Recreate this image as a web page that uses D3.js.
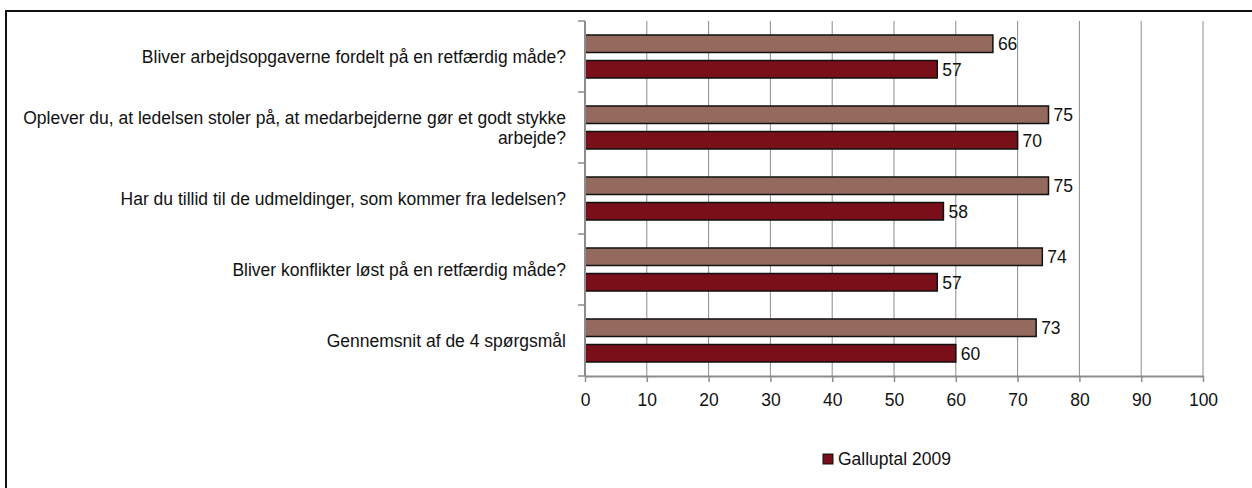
<!DOCTYPE html>
<html>
<head>
<meta charset="utf-8">
<script src="https://cdn.jsdelivr.net/npm/d3@7"></script>
<style>
  html, body { margin: 0; padding: 0; background: #fff; }
  svg { display: block; font-family: "Liberation Sans", Arial, sans-serif; }
</style>
</head>
<body>
<svg id="chart" width="1252" height="488"></svg>
<script>
// Questions (one row each, top to bottom); multi-line labels split on "\n"
const categories = [
  "Bliver arbejdsopgaverne fordelt på en retfærdig måde?",
  "Oplever du, at ledelsen stoler på, at medarbejderne gør et godt stykke\narbejde?",
  "Har du tillid til de udmeldinger, som kommer fra ledelsen?",
  "Bliver konflikter løst på en retfærdig måde?",
  "Gennemsnit af de 4 spørgsmål"
];

// Upper bar in each row
const valuesBenchmark = [66, 75, 75, 74, 73];
// Lower bar in each row
const valuesGallup2009 = [57, 70, 58, 57, 60];

const seriesNames = ["Benchmark", "Galluptal 2009"];
const legendLabels = ["Galluptal 2009"];
const xTicks = [0, 10, 20, 30, 40, 50, 60, 70, 80, 90, 100];

const colors = { "Benchmark": "#946a5f", "Galluptal 2009": "#780f19" };
const FS = 17.5;

const rows = categories.map((c, i) => ({
  category: c,
  values: [
    { series: seriesNames[0], value: valuesBenchmark[i] },
    { series: seriesNames[1], value: valuesGallup2009[i] }
  ]
}));

const svg = d3.select("#chart");

// Outer frame (extends past the right and bottom edges)
svg.append("rect")
  .attr("x", 6).attr("y", 11)
  .attr("width", 1300).attr("height", 600)
  .attr("fill", "none").attr("stroke", "#111").attr("stroke-width", 2);

const plot = { left: 585, right: 1203, top: 21, bottom: 376 };

const x = d3.scaleLinear().domain([0, 100]).range([plot.left, plot.right]);
const y = d3.scaleBand().domain(categories).range([plot.top, plot.bottom]).padding(0);
const bw = y.bandwidth();
const ySub = d3.scaleBand().domain(seriesNames)
  .range([bw * 0.197, bw * 0.803]).paddingInner(0.314);

// Vertical gridlines
svg.append("g").selectAll("line")
  .data(xTicks.filter(t => t > 0))
  .join("line")
  .attr("x1", d => x(d)).attr("x2", d => x(d))
  .attr("y1", plot.top).attr("y2", plot.bottom)
  .attr("stroke", "#8c8c8c").attr("stroke-width", 1);

// Bars
const rowG = svg.append("g").selectAll("g")
  .data(rows)
  .join("g")
  .attr("transform", d => `translate(0,${y(d.category)})`);

rowG.selectAll("rect")
  .data(d => d.values)
  .join("rect")
  .attr("x", x(0))
  .attr("y", d => ySub(d.series))
  .attr("width", d => x(d.value) - x(0))
  .attr("height", ySub.bandwidth())
  .attr("fill", d => colors[d.series])
  .attr("stroke", "#111").attr("stroke-width", 1.5);

// Value labels
rowG.selectAll("text.val")
  .data(d => d.values)
  .join("text")
  .attr("class", "val")
  .attr("x", d => x(d.value) + 5)
  .attr("y", d => ySub(d.series) + ySub.bandwidth() / 2)
  .attr("dy", "0.36em")
  .attr("font-size", FS)
  .attr("fill", "#111")
  .text(d => d.value);

// X axis
const xAxis = d3.axisBottom(x).tickValues(xTicks).tickSize(6).tickPadding(12).tickSizeOuter(0);
const gx = svg.append("g")
  .attr("transform", `translate(0,${plot.bottom})`)
  .call(xAxis);
gx.select(".domain").attr("stroke", "#8c8c8c").attr("stroke-width", 2);
gx.selectAll(".tick line").attr("stroke", "#8c8c8c").attr("stroke-width", 1.5);
gx.selectAll(".tick text")
  .attr("font-size", FS).attr("fill", "#111")
  .attr("font-family", "Liberation Sans, Arial, sans-serif");

// Y axis with ticks at the category boundaries
const gy = svg.append("g");
gy.append("line")
  .attr("x1", plot.left).attr("x2", plot.left)
  .attr("y1", plot.top).attr("y2", plot.bottom)
  .attr("stroke", "#8c8c8c").attr("stroke-width", 2);
const boundaries = categories.map(c => y(c)).concat([plot.bottom]);
gy.selectAll("line.tk")
  .data(boundaries)
  .join("line")
  .attr("class", "tk")
  .attr("x1", plot.left - 7).attr("x2", plot.left)
  .attr("y1", d => d).attr("y2", d => d)
  .attr("stroke", "#8c8c8c").attr("stroke-width", 1.5);

// Category labels, right aligned, possibly on two lines
const lineH = 20;
svg.append("g").selectAll("text")
  .data(categories)
  .join("text")
  .attr("text-anchor", "end")
  .attr("font-size", FS)
  .attr("fill", "#111")
  .each(function (d) {
    const lines = d.split("\n");
    const cy = y(d) + bw / 2 - ((lines.length - 1) * lineH) / 2;
    d3.select(this).selectAll("tspan")
      .data(lines)
      .join("tspan")
      .attr("x", plot.left - 19)
      .attr("y", (l, i) => cy + i * lineH)
      .attr("dy", "0.36em")
      .text(l => l);
  });

// Legend
const leg = svg.append("g").attr("transform", "translate(823,454)");
leg.selectAll("rect")
  .data(legendLabels)
  .join("rect")
  .attr("x", 0).attr("y", 0).attr("width", 10).attr("height", 10)
  .attr("fill", d => colors[d]).attr("stroke", "#111").attr("stroke-width", 1);
leg.selectAll("text")
  .data(legendLabels)
  .join("text")
  .attr("x", 15).attr("y", 5).attr("dy", "0.36em")
  .attr("font-size", FS).attr("fill", "#111")
  .text(d => d);
</script>
</body>
</html>
